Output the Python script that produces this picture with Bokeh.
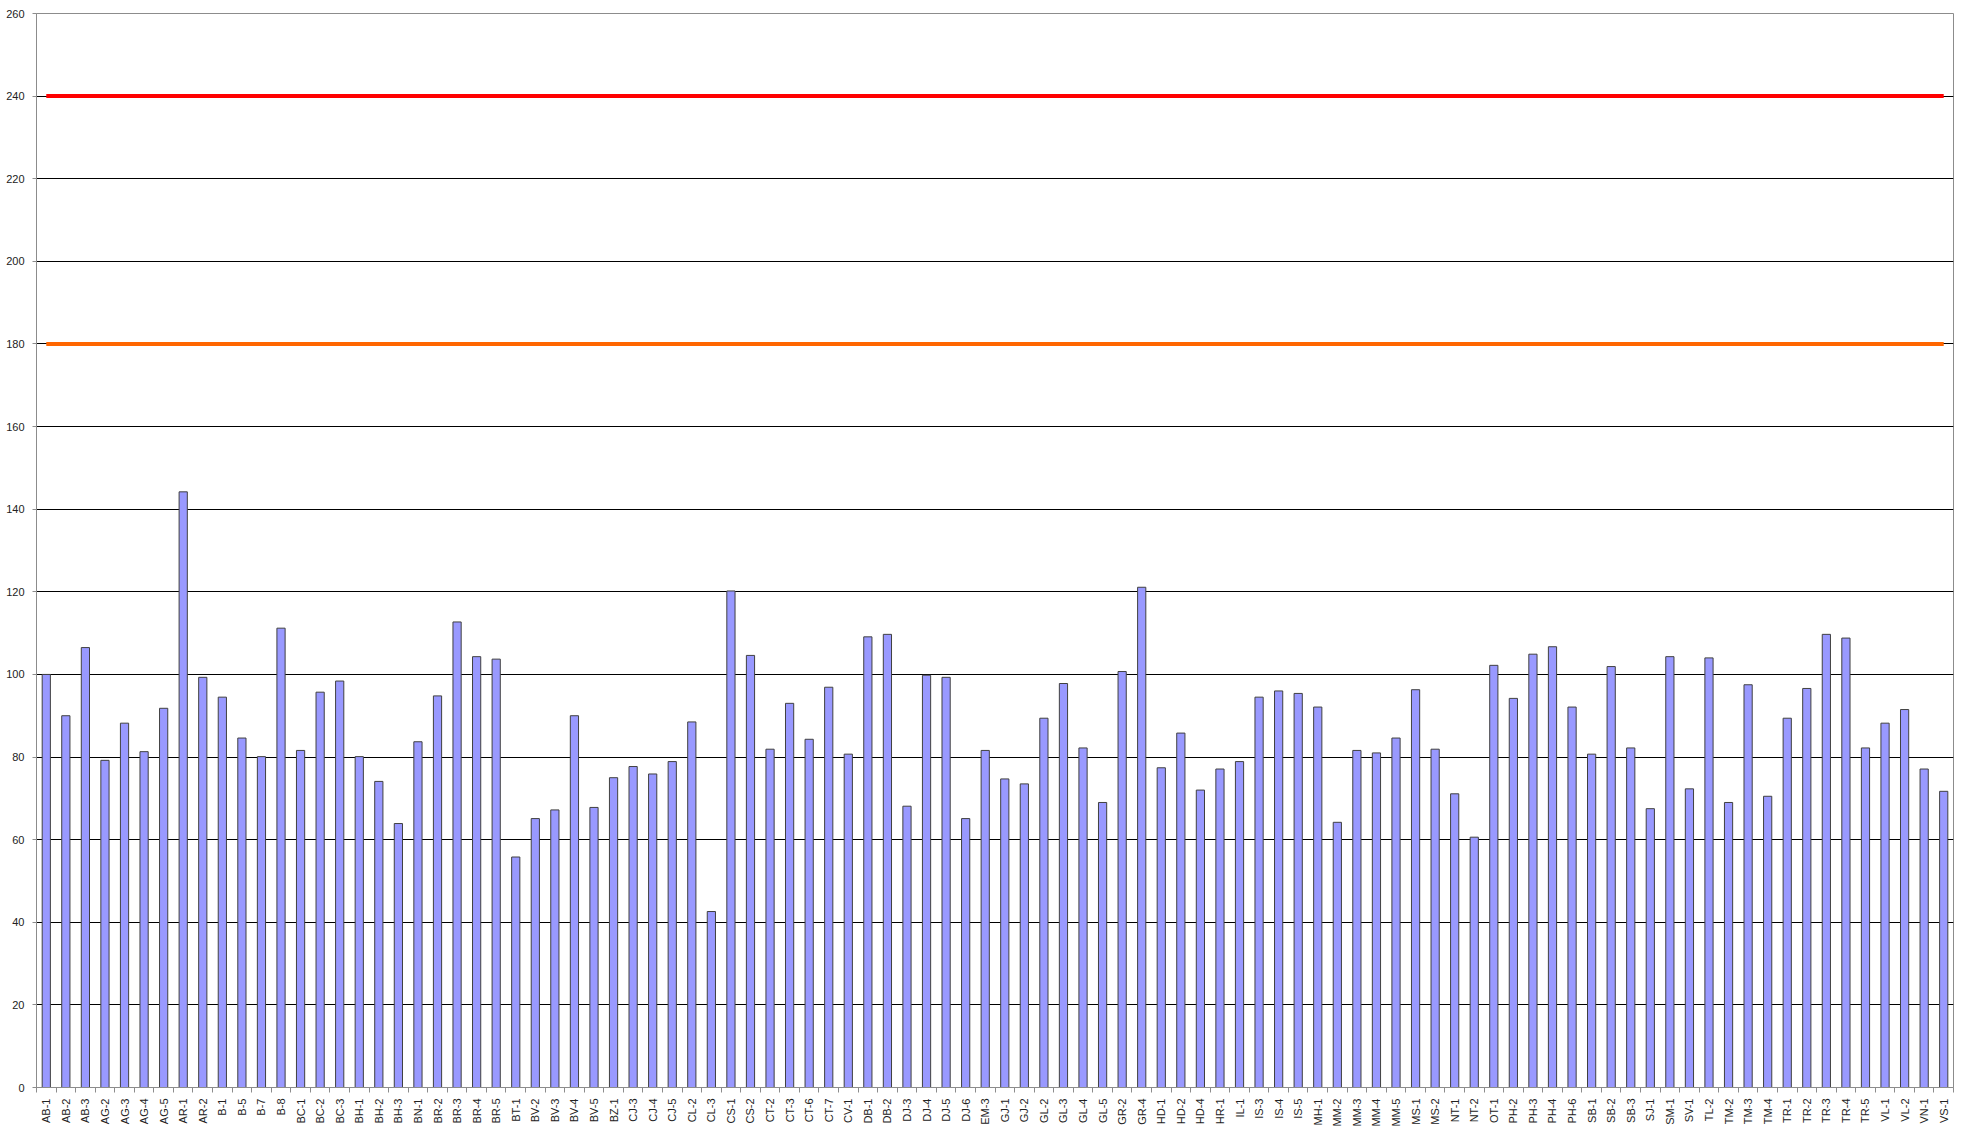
import numpy as np
from bokeh.plotting import figure
from bokeh.models import FixedTicker, ColumnDataSource, Range1d
from bokeh.embed import file_html
from bokeh.resources import INLINE

categories = ["AB-1", "AB-2", "AB-3", "AG-2", "AG-3", "AG-4", "AG-5", "AR-1", "AR-2", "B-1",
              "B-5", "B-7", "B-8", "BC-1", "BC-2", "BC-3", "BH-1", "BH-2", "BH-3", "BN-1",
              "BR-2", "BR-3", "BR-4", "BR-5", "BT-1", "BV-2", "BV-3", "BV-4", "BV-5", "BZ-1",
              "CJ-3", "CJ-4", "CJ-5", "CL-2", "CL-3", "CS-1", "CS-2", "CT-2", "CT-3", "CT-6",
              "CT-7", "CV-1", "DB-1", "DB-2", "DJ-3", "DJ-4", "DJ-5", "DJ-6", "EM-3", "GJ-1",
              "GJ-2", "GL-2", "GL-3", "GL-4", "GL-5", "GR-2", "GR-4", "HD-1", "HD-2", "HD-4",
              "HR-1", "IL-1", "IS-3", "IS-4", "IS-5", "MH-1", "MM-2", "MM-3", "MM-4", "MM-5",
              "MS-1", "MS-2", "NT-1", "NT-2", "OT-1", "PH-2", "PH-3", "PH-4", "PH-6", "SB-1",
              "SB-2", "SB-3", "SJ-1", "SM-1", "SV-1", "TL-2", "TM-2", "TM-3", "TM-4", "TR-1",
              "TR-2", "TR-3", "TR-4", "TR-5", "VL-1", "VL-2", "VN-1", "VS-1"]

values = [100.0, 90.0, 106.5, 79.2, 88.2, 81.3, 91.8, 144.2, 99.3, 94.5,
          84.6, 80.1, 111.2, 81.6, 95.7, 98.4, 80.1, 74.1, 63.9, 83.7,
          94.8, 112.7, 104.3, 103.7, 55.8, 65.1, 67.2, 90.0, 67.8, 75.0,
          77.7, 75.9, 78.9, 88.5, 42.6, 120.2, 104.6, 81.9, 93.0, 84.3,
          96.9, 80.7, 109.1, 109.7, 68.1, 99.8, 99.3, 65.1, 81.6, 74.7,
          73.5, 89.4, 97.8, 82.2, 69.0, 100.7, 121.1, 77.4, 85.8, 72.0,
          77.1, 78.9, 94.5, 96.0, 95.4, 92.1, 64.2, 81.6, 81.0, 84.6,
          96.3, 81.9, 71.1, 60.6, 102.2, 94.2, 104.9, 106.7, 92.1, 80.7,
          101.9, 82.2, 67.5, 104.3, 72.3, 104.0, 69.0, 97.5, 70.5, 89.4,
          96.6, 109.7, 108.8, 82.2, 88.2, 91.5, 77.1, 71.7]

y_ticks = list(range(0, 261, 20))
upper_limit = 240
lower_limit = 180

n = len(categories)
xpos = np.arange(1, n + 1)
source = ColumnDataSource(dict(x=xpos, top=values, name=categories))

AXIS_GRAY = "#8c8c8c"

p = figure(width=1954, height=1129, output_backend="svg", toolbar_location=None,
           x_range=Range1d(0.5, n + 0.5), y_range=Range1d(0, 260),
           min_border_left=36, min_border_right=1, min_border_top=13, min_border_bottom=10)

p.outline_line_color = AXIS_GRAY
p.outline_line_width = 1
p.background_fill_color = "white"
p.border_fill_color = "white"

# grid
p.xgrid.visible = False
p.ygrid.ticker = FixedTicker(ticks=[t for t in y_ticks if 0 < t < 260])
p.ygrid.grid_line_color = "black"
p.ygrid.grid_line_width = 1

# bars
p.vbar(x="x", top="top", bottom=0, width=0.42, source=source,
       fill_color="#9999FF", line_color="#404040", line_width=1)

# threshold lines
p.line(x=[xpos[0], xpos[-1]], y=[upper_limit, upper_limit], line_color="#FF0000", line_width=4)
p.line(x=[xpos[0], xpos[-1]], y=[lower_limit, lower_limit], line_color="#FF6600", line_width=4)

# y axis
p.yaxis.ticker = FixedTicker(ticks=y_ticks)
p.yaxis.axis_line_color = AXIS_GRAY
p.yaxis.major_tick_line_color = AXIS_GRAY
p.yaxis.major_tick_out = 4
p.yaxis.major_tick_in = 0
p.yaxis.minor_tick_line_color = None
p.yaxis.major_label_text_font = "Liberation Sans Narrow, Liberation Sans"
p.yaxis.major_label_text_font_size = "11px"
p.yaxis.major_label_text_color = "#222222"
p.yaxis.major_label_standoff = 8

# x axis: labels at centers, tick marks between categories
boundaries = list(np.arange(0.5, n + 1, 1.0))
p.xaxis.ticker = FixedTicker(ticks=list(xpos), minor_ticks=boundaries)
p.xaxis.major_label_overrides = {int(x): c for x, c in zip(xpos, categories)}
p.xaxis.major_label_orientation = np.pi / 2
p.xaxis.major_label_text_font = "Liberation Sans"
p.xaxis.major_label_text_font_size = "11px"
p.xaxis.major_label_text_color = "#222222"
p.xaxis.major_label_standoff = 6
p.xaxis.major_tick_line_color = None
p.xaxis.major_tick_out = 0
p.xaxis.major_tick_in = 0
p.xaxis.minor_tick_line_color = AXIS_GRAY
p.xaxis.minor_tick_out = 5
p.xaxis.minor_tick_in = 0
p.xaxis.axis_line_color = AXIS_GRAY

open("out.html", "w").write(file_html(p, INLINE))
